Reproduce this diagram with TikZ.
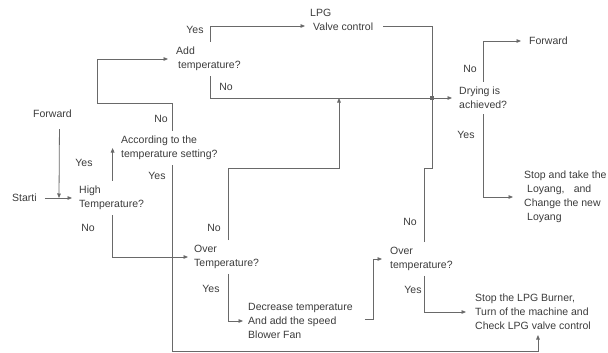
\documentclass[tikz,border=0pt]{standalone}
\usepackage{fontspec}
\setmainfont{Liberation Sans}
\usetikzlibrary{arrows.meta}
\definecolor{textc}{RGB}{60,60,60}
\definecolor{linec}{RGB}{105,105,105}
\begin{document}
\begin{tikzpicture}[x=1pt,y=-1pt,
  txt/.style={inner xsep=0pt,inner ysep=5pt,anchor=west,align=left,text=textc,font=\fontsize{10.5}{14}\selectfont},
  lbl/.style={inner sep=0pt,text=textc,font=\fontsize{10.5}{14}\selectfont},
  conn/.style={draw=linec,line width=0.8pt},
  arr/.style={conn,-{Triangle[length=4.5pt,width=3.6pt]}}]
\useasboundingbox[fill=white] (0,0) rectangle (608,353);

% nodes
\node[txt] (start) at (12,198) {Starti};
\node[txt] (fwd1) at (33,114) {Forward};
\node[txt] (high) at (79,198) {High\\Temperature?};
\node[txt] (accord) at (121,148) {According to the\\temperature setting?};
\node[txt] (addtemp) at (176,59) {Add\\\hspace{2pt}temperature?};
\node[txt] (lpg) at (310,20) {LPG\\\hspace{3pt}Valve control};
\node[txt] (over1) at (194,257) {Over\\Temperature?};
\node[txt] (decrease) at (248,321) {Decrease temperature\\And add the speed\\Blower Fan};
\node[txt] (over2) at (390,259) {Over\\temperature?};
\node[txt] (stoplpg) at (475,312) {Stop the LPG Burner,\\Turn of the machine and\\Check LPG valve control};
\node[txt] (drying) at (459,98) {Drying is\\achieved?};
\node[txt] (fwd2) at (529,41) {Forward};
\node[txt] (stoploy) at (524,197) {Stop and take the\\\hspace{3pt}Loyang,\hspace{0.6em} and\\Change the new\\\hspace{3pt}Loyang};

% labels
\node[lbl] (l1) at (195,30) {Yes};
\node[lbl] (l2) at (226,87) {No};
\node[lbl] (l3) at (161,119) {No};
\node[lbl] (l4) at (84,163) {Yes};
\node[lbl] (l5) at (157,176) {Yes};
\node[lbl] (l6) at (88,228) {No};
\node[lbl] (l7) at (214,228) {No};
\node[lbl] (l8) at (211,289) {Yes};
\node[lbl] (l9) at (410,222) {No};
\node[lbl] (l10) at (413,290) {Yes};
\node[lbl] (l11) at (470,69) {No};
\node[lbl] (l12) at (466,135) {Yes};

% junctions
\coordinate (j1) at (339,98);
\coordinate (j2) at (432,98);
\coordinate (sj) at (59,198);
\coordinate (bl) at (0,351);
\coordinate (hn) at ([xshift=1pt]high.north);
\coordinate (sl) at ([xshift=5pt]stoplpg.south);

% connectors
\draw[arr] ([xshift=8pt]start.east) -- ([xshift=-7pt]high.west);
\draw[arr] ([xshift=7pt,yshift=-6pt]fwd1.south) -- (sj);
\draw[arr] (hn) -- (hn |- accord.west);
\draw[arr] ([xshift=1pt]high.south) |- ([xshift=-6pt]over1.west);
\draw[arr] ([xshift=3pt]accord.north) |- (97,103) |- ([xshift=-8pt]addtemp.west);
\draw[arr] ([xshift=3pt]accord.south) |- (sl |- bl) -- (sl);
\draw[arr] ([xshift=2pt]addtemp.north) |- ([xshift=-5pt,yshift=-6pt]lpg.west);
\draw[conn] ([xshift=10pt,yshift=-6pt]lpg.east) -| (j2);
\draw[arr] ([xshift=2pt]addtemp.south) |- ([xshift=-7pt]drying.west);
\draw[arr] ([xshift=2pt]over1.north) |- (339,168) -- (j1);
\draw[arr] ([xshift=2pt]over1.south) |- ([xshift=-5pt]decrease.west);
\draw[arr] ([xshift=12pt,yshift=2pt]decrease.east) -- (373,319) |- ([xshift=-8pt]over2.west);
\draw[conn] ([xshift=3pt]over2.north) |- (432,168) -- (j2);
\draw[arr] ([xshift=3pt]over2.south) |- ([xshift=-9pt]stoplpg.west);
\draw[arr] (drying.north) |- ([xshift=-8pt]fwd2.west);
\draw[arr] (drying.south) |- ([xshift=-11pt]stoploy.west);
\node[fill=linec,inner sep=0pt,minimum width=3.5pt,minimum height=4.5pt] (jsq) at (j2) {};
\end{tikzpicture}
\end{document}
